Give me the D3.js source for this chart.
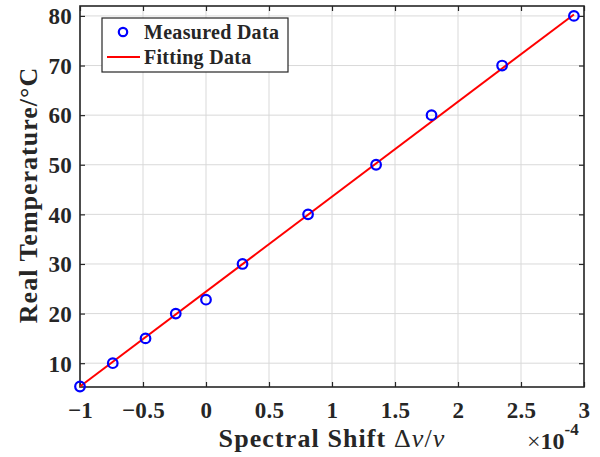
<!DOCTYPE html>
<html><head><meta charset="utf-8">
<script src="https://cdn.jsdelivr.net/npm/d3@7"></script>
<style>body{margin:0;background:#fff}svg{display:block}text{font-family:"Liberation Serif","Times New Roman",serif;font-weight:bold;fill:#262626}</style>
</head><body><svg id="c" width="600" height="457"></svg>
<script>
const measuredX = [-1, -0.74, -0.48, -0.24, 0, 0.29, 0.81, 1.35, 1.79, 2.35, 2.92];
const measuredY = [5.3, 10, 15, 20, 22.8, 30, 40, 50, 60, 70, 80];
const fitX = [-1, 2.92];
const fitY = [5.3, 80.3];
const xTicks = [-1, -0.5, 0, 0.5, 1, 1.5, 2, 2.5, 3];
const yTicks = [10, 20, 30, 40, 50, 60, 70, 80];
const xLabel = "Spectral Shift ";
const yLabel = "Real Temperature/°C";
const legendLabels = ["Measured Data", "Fitting Data"];

const svg = d3.select("#c");
const L = 80, R = 584, T = 6, B = 387;
const x = d3.scaleLinear().domain([-1, 3]).range([L, R]);
const y = d3.scaleLinear().domain([5.2, 82]).range([B, T]);

// grid
const g = svg.append("g");
g.selectAll(".gx").data(xTicks).join("line")
  .attr("x1", d => x(d)).attr("x2", d => x(d)).attr("y1", T).attr("y2", B)
  .attr("stroke", "#d9d9d9").attr("stroke-width", 1);
g.selectAll(".gy").data(yTicks).join("line")
  .attr("x1", L).attr("x2", R).attr("y1", d => y(d)).attr("y2", d => y(d))
  .attr("stroke", "#d9d9d9").attr("stroke-width", 1);

// axes with inward ticks on all sides
const tk = 5;
const axB = svg.append("g").attr("transform", `translate(0,${B})`)
  .call(d3.axisBottom(x).tickValues(xTicks).tickSize(-tk).tickPadding(12).tickFormat(d3.format("")));
const axT = svg.append("g").attr("transform", `translate(0,${T})`)
  .call(d3.axisTop(x).tickValues(xTicks).tickSize(-tk).tickFormat(""));
const axL = svg.append("g").attr("transform", `translate(${L},0)`)
  .call(d3.axisLeft(y).tickValues(yTicks).tickSize(-tk).tickPadding(8));
const axR = svg.append("g").attr("transform", `translate(${R},0)`)
  .call(d3.axisRight(y).tickValues(yTicks).tickSize(-tk).tickFormat(""));
[axB, axT, axL, axR].forEach(a => {
  a.select(".domain").remove();
  a.selectAll("line").attr("stroke", "#262626").attr("stroke-width", 1.2);
  a.selectAll("text").attr("font-size", 23).attr("fill", "#262626")
    .style("letter-spacing", "0.3px");
});
axB.selectAll("text").attr("dy", null).attr("y", 31);
axL.selectAll("text").attr("dy", "0.34em");
// box
svg.append("rect").attr("x", L).attr("y", T).attr("width", R - L).attr("height", B - T)
  .attr("fill", "none").attr("stroke", "#262626").attr("stroke-width", 1.6);

// fit line
svg.append("path").datum(fitX.map((v, i) => [v, fitY[i]]))
  .attr("d", d3.line().x(d => x(d[0])).y(d => y(d[1])))
  .attr("fill", "none").attr("stroke", "#ff0000").attr("stroke-width", 2);

// markers
svg.selectAll(".pt").data(measuredX.map((v, i) => [v, measuredY[i]])).join("circle")
  .attr("cx", d => x(d[0])).attr("cy", d => y(d[1])).attr("r", 4.8)
  .attr("fill", "none").attr("stroke", "#0000ff").attr("stroke-width", 2.2);

// legend
const lg = svg.append("g");
lg.append("rect").attr("x", 102).attr("y", 18).attr("width", 186).attr("height", 54)
  .attr("fill", "#fff").attr("stroke", "#262626").attr("stroke-width", 1.2);
lg.append("circle").attr("cx", 123).attr("cy", 32).attr("r", 4.2)
  .attr("fill", "none").attr("stroke", "#0000ff").attr("stroke-width", 2.2);
lg.append("line").attr("x1", 107).attr("x2", 140).attr("y1", 57).attr("y2", 57)
  .attr("stroke", "#ff0000").attr("stroke-width", 2);
lg.selectAll(".lt").data(legendLabels).join("text")
  .attr("x", 144).attr("y", (d, i) => 39 + i * 25)
  .attr("font-size", 20).style("letter-spacing", "0.3px").attr("fill", "#111").text(d => d);

// x label
const xl = svg.append("text").attr("x", 332).attr("y", 447).attr("text-anchor", "middle")
  .attr("font-size", 26).style("letter-spacing", "1.1px").attr("fill", "#262626");
xl.append("tspan").text(xLabel);
xl.append("tspan").attr("font-weight", "normal").text("\u0394");
xl.append("tspan").attr("font-style", "italic").attr("font-weight", "normal").text("\u03BD");
xl.append("tspan").attr("font-weight", "normal").text("/");
xl.append("tspan").attr("font-style", "italic").attr("font-weight", "normal").text("\u03BD");

// exponent
const ex = svg.append("text").attr("x", 527).attr("y", 449).attr("font-size", 24).attr("fill", "#262626");
ex.append("tspan").attr("font-weight", "normal").text("\u00D7");
ex.append("tspan").text("10");
ex.append("tspan").attr("dy", -14).attr("font-size", 17).text("-4");

// y label
svg.append("text").attr("transform", "translate(37,195) rotate(-90)").attr("text-anchor", "middle")
  .attr("font-size", 26).style("letter-spacing", "1px").attr("fill", "#262626").text(yLabel);
</script></body></html>
